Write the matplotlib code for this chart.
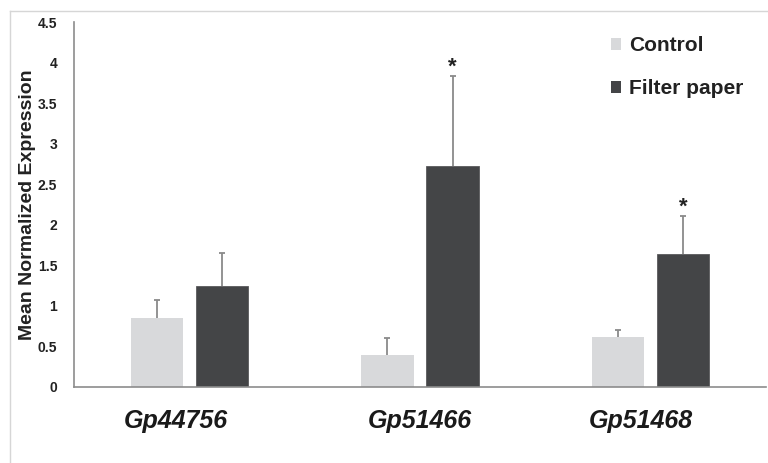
import matplotlib
matplotlib.use("Agg")
import matplotlib.pyplot as plt
import matplotlib.transforms as mtransforms
from matplotlib.lines import Line2D
from matplotlib.patches import Patch
import numpy as np

genes = ["Gp44756", "Gp51466", "Gp51468"]
control = [0.855, 0.40, 0.62]
control_err = [0.22, 0.20, 0.08]
filter_paper = [1.24, 2.73, 1.64]
filter_err = [0.41, 1.10, 0.47]
significant = [False, True, True]
yticks = [0, 0.5, 1, 1.5, 2, 2.5, 3, 3.5, 4, 4.5]

c_ctrl = "#d8d9db"
c_filt = "#444547"
c_err = "#8a8a8a"

plt.rcParams["font.family"] = ["Liberation Sans", "DejaVu Sans"]

fig = plt.figure(figsize=(7.68, 4.63), dpi=100)
ax = fig.add_axes([74 / 768, 76 / 463, 692 / 768, 365 / 463])

x = np.arange(len(genes))
w = 0.226
off = 0.141
ax.bar(x - off, control, w, color=c_ctrl, zorder=2)
ax.bar(x + off, filter_paper, w, color=c_filt, edgecolor="#5a5a5c", linewidth=0.6, zorder=2)
for pos, vals, errs in [(x - off, control, control_err), (x + off, filter_paper, filter_err)]:
    eb = ax.errorbar(pos, vals, yerr=[np.zeros(3), errs], fmt="none",
                     ecolor=c_err, elinewidth=1.3, capsize=2.5, capthick=1.3, zorder=3)
    # only the upper whisker carries a cap
    eb[1][0].set_visible(False)

for i, sig in enumerate(significant):
    if sig:
        ax.text(x[i] + off, filter_paper[i] + filter_err[i] - 0.02, "*",
                ha="center", va="bottom", fontsize=16, fontweight="bold", color="#222222")

ax.set_xlim(-0.5, 2.5)
ax.set_ylim(0, 4.5)
ax.set_yticks(yticks)
ax.set_yticklabels([f"{t:g}" for t in yticks], fontsize=10, fontweight="bold", color="#222222")
ax.set_xticks(x)
ax.set_xticklabels(genes, fontsize=18, fontweight="bold", fontstyle="italic", color="#1a1a1a")
ax.tick_params(axis="both", length=0)
ax.tick_params(axis="x", pad=16)
ax.tick_params(axis="y", pad=12)

# small horizontal nudges of the gene labels
for lab, dx in zip(ax.get_xticklabels(), [-13, 0, -10]):
    lab.set_transform(lab.get_transform() + mtransforms.ScaledTranslation(dx / 100, 0, fig.dpi_scale_trans))

for s in ["top", "right"]:
    ax.spines[s].set_visible(False)
for s in ["left", "bottom"]:
    ax.spines[s].set_color("#8c8c8c")
    ax.spines[s].set_linewidth(1.2)
ax.set_ylabel("Mean Normalized Expression", fontsize=14, fontweight="bold", color="#222222", labelpad=1.5)

handles = [Patch(facecolor=c_ctrl, edgecolor="none"), Patch(facecolor=c_filt, edgecolor="none")]
leg = fig.legend(handles, ["Control", "Filter paper"], loc="upper left",
                 bbox_to_anchor=(611 / 768, 1 - 36 / 463), frameon=False, borderpad=0,
                 borderaxespad=0, handlelength=0.5, handleheight=0.5, handletextpad=0.35,
                 labelspacing=1.15, prop={"size": 15, "weight": "bold"})
for t in leg.get_texts():
    t.set_color("#222222")

# outer frame lines
fig.add_artist(Line2D([10 / 768, 1], [1 - 11 / 463, 1 - 11 / 463], color="#d6d6d6", lw=1.0))
fig.add_artist(Line2D([10 / 768, 10 / 768], [0, 1 - 11 / 463], color="#d6d6d6", lw=1.0))

fig.savefig("out.png", dpi=100)
